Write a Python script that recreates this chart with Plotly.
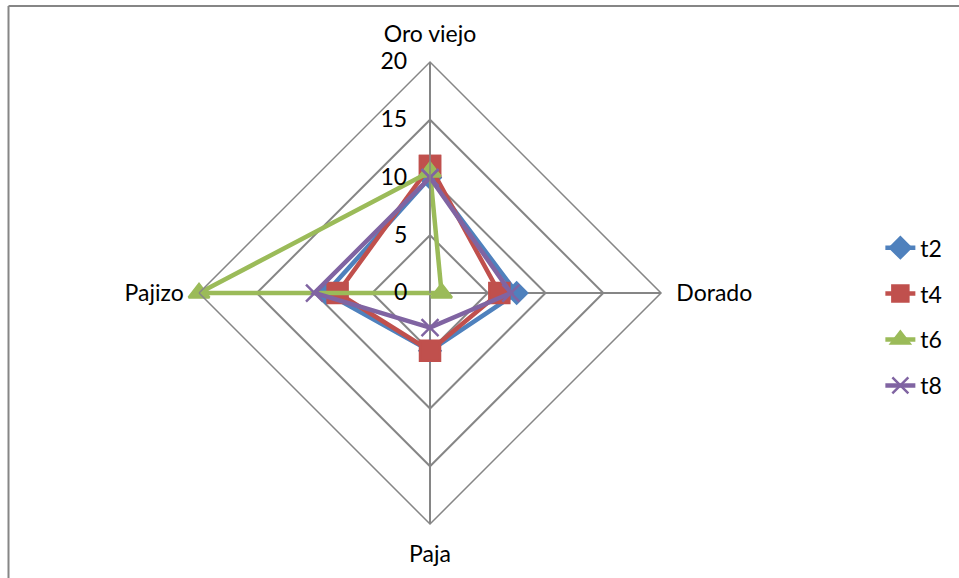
import plotly.graph_objects as go

categories = ["Oro viejo", "Dorado", "Paja", "Pajizo"]
series_names = ["t2", "t4", "t6", "t8"]
t2 = [10, 7.5, 5, 9]
t4 = [11, 6, 5, 8]
t6 = [10.5, 1, 0, 20]
t8 = [10, 7, 3, 10]
radial_ticks = [0, 5, 10, 15, 20]

colors = ["#4F81BD", "#C0504D", "#9BBB59", "#8064A2"]
symbols = ["diamond", "square", "triangle-up", "x-thin-open"]
sizes = [16, 20, 18, 17]

FONT = "Lato, 'Open Sans', sans-serif"

fig = go.Figure()
for name, vals, c, s, sz in zip(series_names, [t2, t4, t6, t8], colors, symbols, sizes):
    fig.add_trace(go.Scatterpolar(
        r=vals + vals[:1],
        theta=categories + categories[:1],
        name=name,
        legendgroup=name,
        mode="lines+markers",
        line=dict(color=c, width=4.5),
        marker=dict(symbol=s, size=sz, color=c, line=dict(color=c, width=2.5)),
    ))

grid = "#868686"
fig.update_layout(
    width=959, height=578,
    margin=dict(l=0, r=0, t=0, b=0),
    paper_bgcolor="white",
    font=dict(family=FONT, size=23, color="#000000"),
    showlegend=True,
    legend=dict(x=0.918, y=0.452, xanchor="left", yanchor="middle",
                font=dict(size=23), tracegroupgap=13, itemwidth=30),
    polar=dict(
        domain=dict(x=[0.2075, 0.6893], y=[0.0934, 0.8927]),
        bgcolor="white",
        gridshape="linear",
        radialaxis=dict(range=[0, 20], tickvals=radial_ticks, angle=90,
                        side="counterclockwise",
                        showline=True, linecolor=grid, linewidth=1.5,
                        gridcolor=grid, gridwidth=1.5,
                        ticks="outside", ticklen=14, tickcolor="rgba(0,0,0,0)",
                        tickfont=dict(size=23), tickangle=90),
        angularaxis=dict(direction="clockwise", rotation=90,
                         categoryorder="array", categoryarray=categories,
                         showline=True, linecolor=grid, linewidth=1.5,
                         gridcolor=grid, gridwidth=1.5,
                         ticks="outside", ticklen=10, tickcolor="rgba(0,0,0,0)",
                         tickfont=dict(size=23)),
    ),
    shapes=[
        dict(type="line", xref="paper", yref="paper", x0=8.5/959, x1=1, y0=1-6/578, y1=1-6/578,
             line=dict(color="#868686", width=2)),
        dict(type="line", xref="paper", yref="paper", x0=8.5/959, x1=8.5/959, y0=0, y1=1-6/578,
             line=dict(color="#868686", width=2)),
    ],
)

fig.write_html("out.html", config={"displayModeBar": False},
               post_script="document.body.style.margin='0';")
